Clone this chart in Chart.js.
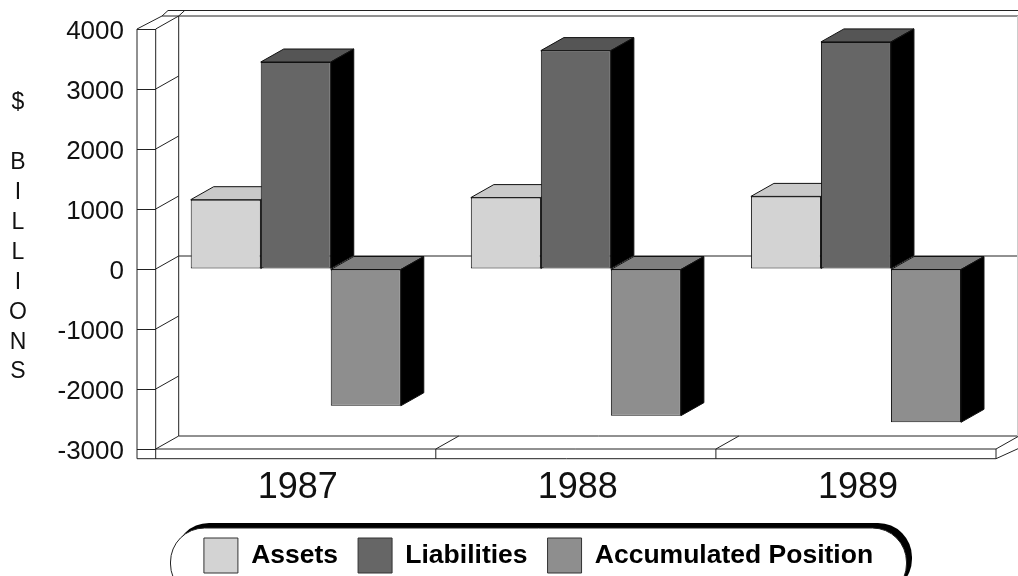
<!DOCTYPE html>
<html><head><meta charset="utf-8">
<style>html,body{margin:0;padding:0;background:#fff}canvas{display:block}</style>
<script src="https://cdn.jsdelivr.net/npm/chart.js@4"></script>
</head><body><canvas id="c" width="1018" height="576"></canvas>
<script>
const categories = ['1987','1988','1989'];
const assets = [1155,1190,1210];
const liabilities = [3450,3640,3785];
const accumulated = [-2280,-2445,-2555];
const axisLetters = ['$','','B','I','L','L','I','O','N','S'];
const seriesNames = ['Assets','Liabilities','Accumulated Position'];
const FONT = '"Liberation Sans", Arial, sans-serif';
const DX = 23, DY = 13;
const FRONT = ['#d3d3d3','#666666','#8e8e8e'];
const TOPS = ['#c9c9c9','#555555','#7f7f7f'];

function line(ctx, pts){
  ctx.beginPath(); pts.forEach((p,i)=> i?ctx.lineTo(p[0],p[1]):ctx.moveTo(p[0],p[1])); ctx.stroke();
}
function poly(ctx, pts, fill){
  ctx.beginPath(); pts.forEach((p,i)=> i?ctx.lineTo(p[0],p[1]):ctx.moveTo(p[0],p[1])); ctx.closePath();
  ctx.fillStyle = fill; ctx.fill(); ctx.stroke();
}
function rr(ctx,x,y,w,h,r){ ctx.beginPath(); ctx.roundRect(x,y,w,h,r); }

const frame = {
  id:'frame',
  afterLayout(chart){
    const l = chart.legend;
    l.left = 78.5; l.right = 998.5; l.top = 518; l.bottom = 576;
  },
  beforeDraw(chart){
    const ctx = chart.ctx; ctx.save();
    if(!chart.$nudged){
      chart.scales.y.getLabelItems().forEach(it=>{ it.options.translation[1]+=2.5; });
      chart.scales.x.getLabelItems().forEach(it=>{ it.options.translation[0]+=2; });
      chart.$nudged=true;
    }
    ctx.fillStyle='#000'; rr(ctx,175,523,737,70,34); ctx.fill();
    ctx.fillStyle='#fff'; ctx.strokeStyle='#222'; ctx.lineWidth=1;
    rr(ctx,170.5,528,736,70,34); ctx.fill(); ctx.stroke();
    ctx.fillStyle='#111'; ctx.font='23px '+FONT; ctx.textAlign='center'; ctx.textBaseline='middle';
    axisLetters.forEach((s,i)=>{ if(s) ctx.fillText(s,18,103+i*29.9); });
    ctx.restore();
  },
  beforeDatasetsDraw(chart){
    const ctx = chart.ctx, a = chart.chartArea, y = chart.scales.y;
    const L=a.left, R=a.right, T=a.top, B=a.bottom, outer=L-18.7, floor=B+9.7, W=chart.width;
    ctx.save(); ctx.strokeStyle='#222'; ctx.lineWidth=1; ctx.lineJoin='miter';
    line(ctx,[[outer,T],[outer,floor],[R,floor],[R,B],[L,B]]);
    line(ctx,[[L,T],[L,floor]]);
    line(ctx,[[outer,T],[outer+DX+2,T-DY]]);
    line(ctx,[[L+DX,T-DY],[L+DX,B-DY]]);
    line(ctx,[[outer+DX+2,T-DY],[W,T-DY]]);
    line(ctx,[[outer+DX+2,T-DY],[outer+DX+8,T-DY-5.5],[W,T-DY-5.5]]);
    line(ctx,[[L+DX,T-DY],[L+DX+6,T-DY-5.5]]);
    y.ticks.forEach(t=>{ const p=y.getPixelForValue(t.value); line(ctx,[[L,p],[L+DX,p-DY]]); });
    const z=y.getPixelForValue(0);
    line(ctx,[[L+DX,z-DY],[W,z-DY]]);
    line(ctx,[[L+DX,B-DY],[W,B-DY]]);
    categories.forEach((c,i)=>{ const px=L+(R-L)*(i+1)/categories.length; line(ctx,[[px,B],[px+DX,B-DY]]); if(i<categories.length-1) line(ctx,[[px,B],[px,floor]]); });
    line(ctx,[[R,floor],[W,floor-DY+3]]);
    ctx.strokeStyle='#ccc'; line(ctx,[[W-0.5,T-DY],[W-0.5,B-DY]]);
    ctx.strokeStyle='#111';
    chart.data.datasets.forEach((d,i)=>{
      chart.getDatasetMeta(i).data.forEach(b=>{
        const x0=b.x-b.width/2, x1=b.x+b.width/2, top=Math.min(b.y,b.base), bot=Math.max(b.y,b.base);
        poly(ctx,[[x0,top],[x1,top],[x1+DX,top-DY],[x0+DX,top-DY]],TOPS[i]);
        poly(ctx,[[x1,top],[x1+DX,top-DY],[x1+DX,bot-DY],[x1,bot]],'#000');
      });
    });
    ctx.restore();
  }
};

new Chart(document.getElementById('c'),{
  type:'bar',
  data:{labels:categories,datasets:[
    {label:seriesNames[0],data:assets,backgroundColor:FRONT[0]},
    {label:seriesNames[1],data:liabilities,backgroundColor:FRONT[1]},
    {label:seriesNames[2],data:accumulated,backgroundColor:FRONT[2]}
  ].map(d=>Object.assign(d,{borderColor:'#111',borderWidth:1,borderSkipped:false,categoryPercentage:0.75,barPercentage:1}))},
  options:{
    responsive:false,animation:false,
    layout:{padding:{left:0,right:22,top:29,bottom:0}},
    plugins:{
      tooltip:{enabled:false},title:{display:false},
      legend:{display:true,position:'bottom',
        labels:{boxWidth:34,boxHeight:35,padding:20,color:'#000',font:{family:FONT,size:26.5,weight:'bold'},
          generateLabels(chart){return chart.data.datasets.map((d,i)=>({text:d.label,fillStyle:d.backgroundColor,strokeStyle:'#333',lineWidth:1,datasetIndex:i,hidden:false}));}}
      }
    },
    scales:{
      x:{offset:true,
        afterFit(s){s.height=62;},
        border:{display:false},
        grid:{display:false},
        ticks:{color:'#111',padding:9,maxRotation:0,font:{family:FONT,size:36}}
      },
      y:{min:-3000,max:4000,
        afterFit(s){s.width=155.7;},
        border:{display:false},
        grid:{drawOnChartArea:false,drawTicks:true,tickLength:18.7,color:'#222',lineWidth:1},
        ticks:{stepSize:1000,color:'#111',padding:13,font:{family:FONT,size:26},callback:v=>String(v)}
      }
    }
  },
  plugins:[frame]
});
</script></body></html>
